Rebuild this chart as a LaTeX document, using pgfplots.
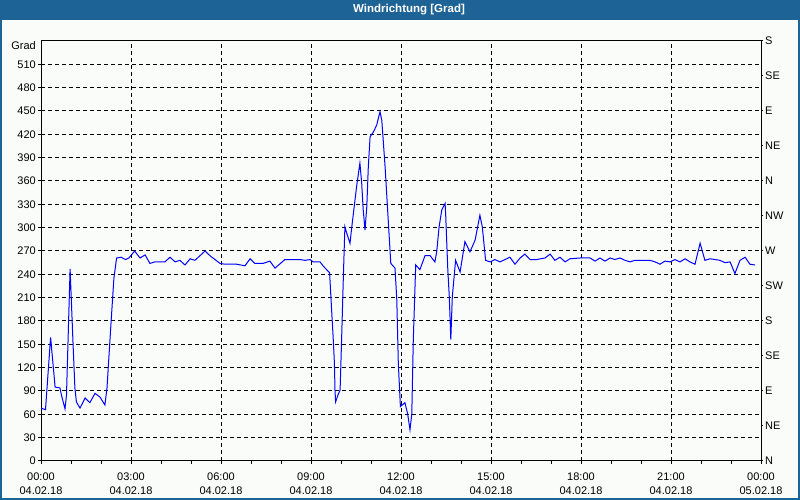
\documentclass[border=0pt]{standalone}
\usepackage{pgfplots}
\pgfplotsset{compat=1.18}
\usepackage{fontspec}
\setmainfont{Liberation Sans}
\definecolor{titlebar}{RGB}{30,99,150}
\definecolor{bg}{RGB}{250,252,250}
\definecolor{lineblue}{RGB}{0,0,255}
\begin{document}
\begin{tikzpicture}[x=1pt,y=1pt]
\fill[bg] (0,0) rectangle (800,500);
\fill[titlebar] (0,480) rectangle (800,500);
\draw[titlebar, line width=2pt] (1,1) rectangle (799,499);
\node[white, font=\bfseries\fontsize{11.5}{13}\selectfont] at (409,490) {Windrichtung [Grad]};
\begin{axis}[
  at={(41pt,39pt)}, anchor=south west, scale only axis,
  width=720pt, height=420pt,
  xmin=0, xmax=24, ymin=0, ymax=540,
  xtick={0,3,...,24}, minor x tick num=2,
  ytick={0,30,...,510},
  xticklabels={{00:00\\04.02.18},{03:00\\04.02.18},{06:00\\04.02.18},{09:00\\04.02.18},{12:00\\04.02.18},{15:00\\04.02.18},{18:00\\04.02.18},{21:00\\04.02.18},{00:00\\05.02.18}},
  xtick pos=bottom, ytick pos=left,
  tick align=outside, major tick length=3pt, minor tick length=3pt,
  tick style={black, line width=1pt},
  axis line style={black, line width=1pt},
  grid=major,
  major grid style={black, dash pattern=on 4pt off 3pt, line width=1pt},
  /pgf/number format/assume math mode=true,
  yticklabel style={font=\fontsize{11}{13}\selectfont, anchor=east, inner sep=0pt, xshift=-2pt},
  xticklabel style={font=\fontsize{11}{14}\selectfont, align=center, anchor=north, inner sep=0pt, yshift=-9pt},
  clip=false,
]
\addplot[lineblue, line width=1pt, mark=none] coordinates {
(0.00,68) (0.15,66) (0.32,159) (0.47,95) (0.63,94) (0.68,85) (0.80,67) (0.85,85)
(0.97,247) (1.07,149) (1.13,94) (1.18,76) (1.30,68) (1.47,81) (1.63,75) (1.80,87)
(1.97,82) (2.13,72) (2.20,94) (2.33,175) (2.43,235) (2.52,261) (2.67,262) (2.82,259)
(2.93,261) (3.12,270) (3.30,261) (3.47,265) (3.63,254) (3.80,256) (4.13,256) (4.30,262)
(4.47,256) (4.63,258) (4.80,252) (4.97,260) (5.13,258) (5.47,270) (5.63,264) (5.80,259)
(5.97,254) (6.13,253) (6.52,253) (6.80,251) (6.97,260) (7.13,254) (7.40,254) (7.63,257)
(7.80,248) (8.13,259) (8.30,259) (8.63,259) (8.80,258) (8.97,259) (9.07,256) (9.30,256)
(9.40,251) (9.47,248) (9.62,242) (9.69,192) (9.74,158) (9.78,126) (9.80,91) (9.82,76)
(9.91,86) (9.97,91) (10.02,156) (10.08,239) (10.13,301) (10.19,293) (10.30,280) (10.36,301)
(10.44,327) (10.52,353) (10.63,383) (10.69,357) (10.74,323) (10.80,297) (10.86,327) (10.91,378)
(10.97,417) (11.08,423) (11.19,432) (11.30,449) (11.36,438) (11.47,378) (11.58,306) (11.66,254)
(11.80,248) (11.86,207) (11.91,126) (11.98,70) (12.13,75) (12.22,61) (12.30,40) (12.36,61)
(12.41,156) (12.49,252) (12.63,246) (12.80,264) (12.97,264) (13.13,256) (13.19,269) (13.27,301)
(13.36,323) (13.47,331) (13.49,316) (13.56,246) (13.61,211) (13.66,156) (13.71,211) (13.82,258)
(13.97,243) (14.13,282) (14.30,269) (14.47,284) (14.63,316) (14.71,301) (14.82,258) (14.97,256)
(15.13,259) (15.30,256) (15.63,262) (15.80,253) (15.97,261) (16.13,266) (16.30,259) (16.52,259)
(16.80,261) (16.97,266) (17.13,258) (17.30,262) (17.47,256) (17.63,260) (17.97,261) (18.13,261)
(18.30,261) (18.47,257) (18.63,261) (18.80,257) (18.97,261) (19.13,259) (19.30,261) (19.47,258)
(19.63,256) (19.80,258) (20.30,258) (20.47,256) (20.63,253) (20.80,257) (20.97,256) (21.13,259)
(21.30,256) (21.47,260) (21.63,256) (21.80,253) (21.97,280) (22.13,258) (22.30,260) (22.47,259)
(22.63,258) (22.80,255) (22.97,256) (23.13,241) (23.30,258) (23.47,262) (23.63,253) (23.80,252)
};
\node[anchor=east, inner sep=0pt, font=\fontsize{11}{13}\selectfont] at (axis cs:0,540) [xshift=-5pt, yshift=-5pt] {Grad};
\end{axis}
\begin{axis}[
  at={(41pt,39pt)}, anchor=south west, scale only axis,
  width=720pt, height=420pt,
  xmin=0, xmax=24, ymin=0, ymax=540,
  axis x line=none, axis y line*=right,
  ytick={0,45,...,540},
  yticklabels={N,NE,E,SE,S,SW,W,NW,N,NE,E,SE,S},
  tick align=outside, major tick length=2pt,
  tick style={black, line width=1pt},
  axis line style={black, line width=1pt},
  yticklabel style={font=\fontsize{11}{13}\selectfont, anchor=west, inner sep=0pt, xshift=2pt},
]
\end{axis}
\end{tikzpicture}
\end{document}
